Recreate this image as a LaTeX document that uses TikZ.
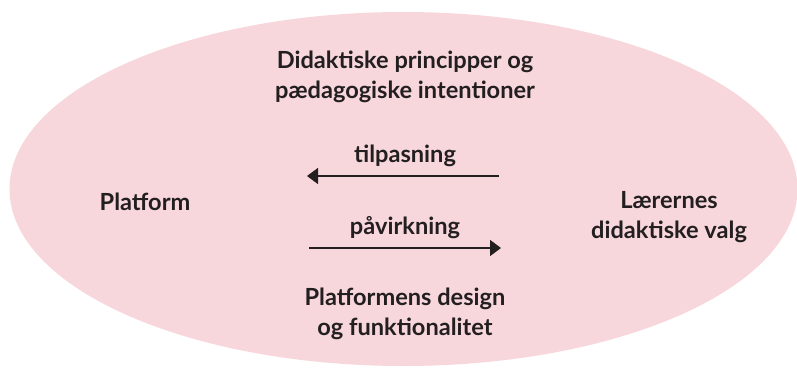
\documentclass[tikz,border=0pt]{standalone}
\usepackage{fontspec}
\setmainfont{Lato}
\usetikzlibrary{arrows.meta}
\definecolor{blush}{HTML}{F7D7DB}
\definecolor{ink}{HTML}{231F20}
\begin{document}
\begin{tikzpicture}[x=1pt,y=-1pt,
  label/.style={text=ink,font=\fontsize{23.6}{29.5}\selectfont\bfseries,align=center,inner sep=0pt},
  flow/.style={draw=ink,line width=1.4pt,-{Triangle[length=11pt,width=16pt]}}]
  \useasboundingbox (0,0) rectangle (797,367);
  % background field
  \fill[blush] (403.5,189) ellipse [x radius=394, y radius=177];
  % labels
  \node[label] (top) at (405,77) {Didaktiske principper og\\pædagogiske intentioner};
  \node[label] (plat) at (145,202) {Platform};
  \node[label] (teach) at (669,217) {Lærernes\\didaktiske valg};
  \node[label] (bottom) at (405,314) {Platformens design\\og funktionalitet};
  \node[label] (adapt) at (405,156) {tilpasning};
  \node[label] (infl) at (405,228) {påvirkning};
  % arrows
  \coordinate (a1) at (499,176);
  \coordinate (a2) at (307,176);
  \coordinate (b1) at (309,248);
  \coordinate (b2) at (501,248);
  \draw[flow] (a1) -- (a2);
  \draw[flow] (b1) -- (b2);
\end{tikzpicture}
\end{document}
